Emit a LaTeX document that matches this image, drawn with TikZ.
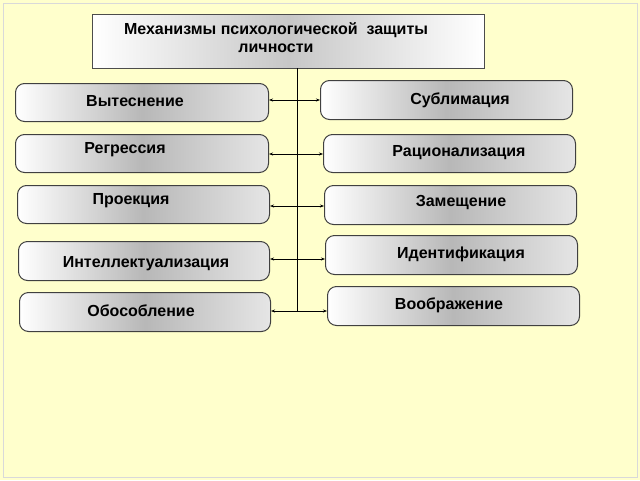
\documentclass[tikz,border=0pt]{standalone}
\usepackage{fontspec}
\setmainfont{Liberation Sans}
\usetikzlibrary{arrows.meta}
\definecolor{bg}{HTML}{FFFFCC}
\begin{document}
\begin{tikzpicture}[x=1pt,y=-1pt,
 boxst/.style={draw=black!75,line width=1pt,rounded corners=9pt,left color=white,right color=white!90!black,middle color=black!28},
 lbl/.style={font=\bfseries\fontsize{16}{18}\selectfont},
 conn/.style={{Stealth[length=4pt,width=3pt]}-{Stealth[length=4pt,width=3pt]},line width=0.6pt}]
\useasboundingbox (0,0) rectangle (640,480);
\fill[bg] (0,0) rectangle (640,480);
\draw[black!15,line width=1pt] (3,3) rectangle (637,477);
\node[draw=black!70,left color=white,right color=white,middle color=black!22,minimum width=392pt,minimum height=54pt,anchor=north west,inner sep=0pt] (t) at (92,14) {};
\node[lbl,align=center] (tt) at (276,38) {Механизмы психологической \ защиты\\личности};
\coordinate (vb) at (297,311);
\draw[line width=0.6pt] (t.south -| vb) -- (vb);
\foreach \n/\xa/\xb/\ya/\yb/\tx/\ty/\txt in {
 l1/15/268/83/121/135/101/Вытеснение, l2/15/268/134/172/125/150/Регрессия, l3/17/269/185/223/131/201/Проекция,
 l4/18/269/241/280/146/264/Интеллектуализация, l5/19/270/292/331/141/311/Обособление,
 r1/320/572/80/119/460/100/Сублимация, r2/323/575/134/172/459/153/Рационализация, r3/324/576/185/224/461/203/Замещение,
 r4/325/577/235/274/461/254/Идентификация, r5/327/579/286/325/449/305/Воображение}{
 \node[boxst,minimum width={\xb-\xa},minimum height={\yb-\ya},inner sep=0pt,anchor=north west] (\n) at (\xa,\ya) {};
 \node[lbl] (\n t) at (\tx,\ty) {\txt};
}
\foreach \i/\y in {1/100,2/154,3/206,4/259,5/311}{
 \coordinate (a\i) at (0,\y);
 \draw[conn] (l\i.east |- a\i) -- (r\i.west |- a\i);
}
\end{tikzpicture}
\end{document}
